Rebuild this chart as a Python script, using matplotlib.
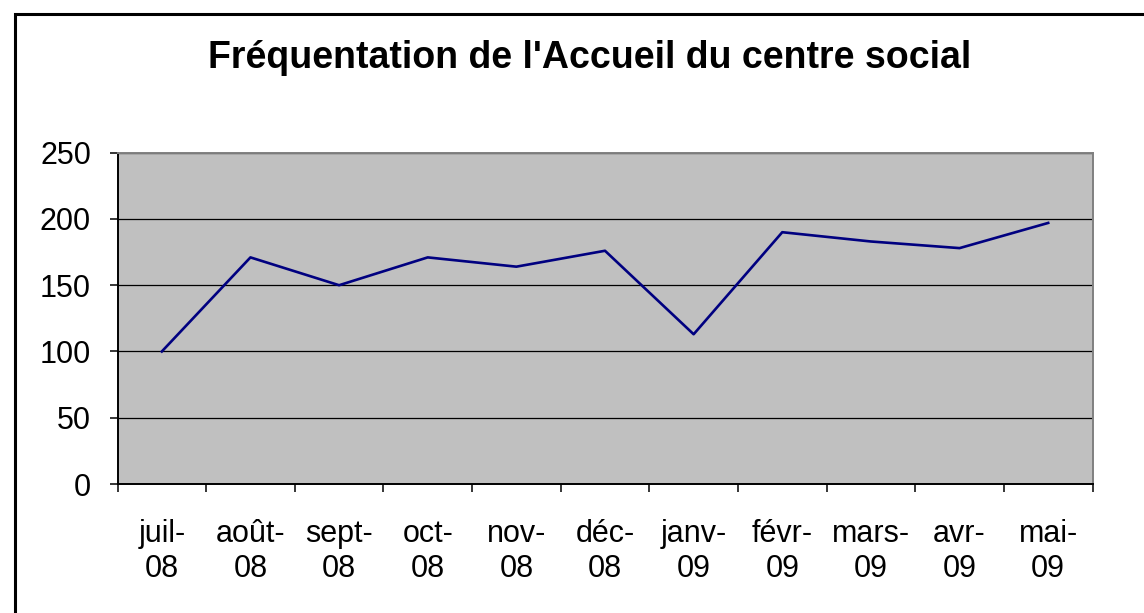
import numpy as np
import matplotlib.pyplot as plt
import matplotlib as mpl
from matplotlib.patches import Rectangle

mpl.rcParams['font.family'] = ['Liberation Sans', 'DejaVu Sans']

# Data
mois = ['juil-\n08', 'août-\n08', 'sept-\n08', 'oct-\n08', 'nov-\n08', 'déc-\n08',
        'janv-\n09', 'févr-\n09', 'mars-\n09', 'avr-\n09', 'mai-\n09']
frequentation = [100, 171, 150, 171, 164, 176, 113, 190, 183, 178, 197]

fig = plt.figure(figsize=(11.44, 6.13), dpi=100, facecolor='white')
ax = fig.add_axes([117.5 / 1144, 1 - 484 / 613, (1092.5 - 117.5) / 1144, (484 - 152.7) / 613])
ax.set_facecolor('#c0c0c0')

x = np.arange(len(mois))
ax.plot(x, frequentation, color='#000080', linewidth=1.9, zorder=3)

ax.set_xlim(-0.5, len(mois) - 0.5)
ax.set_ylim(0, 250)
ax.set_yticks(np.arange(0, 251, 50))

# category boundaries carry the tick marks, labels sit between them
ax.set_xticks(np.arange(-0.5, len(mois), 1.0))
ax.set_xticklabels([])
ax.set_xticks(x, minor=True)
ax.set_xticklabels(mois, minor=True, fontsize=22, linespacing=1.25)
ax.tick_params(axis='x', which='minor', length=0, pad=25)
ax.tick_params(axis='x', which='major', length=6, width=1.1, direction='out', color='black')
ax.tick_params(axis='y', length=6, width=1.1, direction='out', labelsize=22, pad=13)

ax.yaxis.grid(True, color='black', linewidth=0.9)
ax.xaxis.grid(False)
ax.set_axisbelow(True)

ax.spines['left'].set_color('black')
ax.spines['bottom'].set_color('black')
ax.spines['top'].set_color('#808080')
ax.spines['right'].set_color('#808080')
for s in ax.spines.values():
    s.set_linewidth(1.4)

fig.text(590 / 1144, 1 - 58 / 613, "Fréquentation de l'Accueil du centre social",
         ha='center', va='center', fontsize=27, fontweight='bold')

# chart border (open on the right and bottom, like the cropped original)
fig.patches.append(Rectangle((14.5 / 1144, -0.2), 1.5, 1.2 - 13.5 / 613, fill=False,
                             edgecolor='black', linewidth=2.2, transform=fig.transFigure))

plt.savefig('out.png', dpi=100, facecolor='white')
